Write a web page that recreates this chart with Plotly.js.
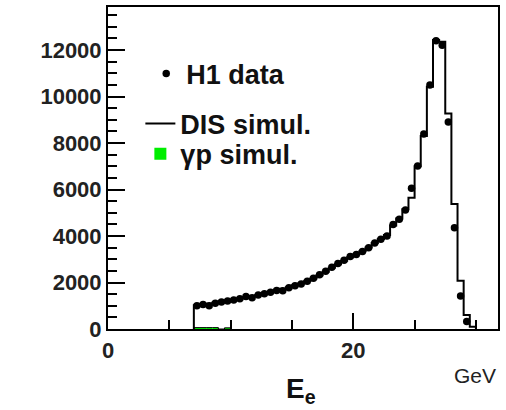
<!DOCTYPE html>
<html>
<head>
<meta charset="utf-8">
<script src="https://cdn.plot.ly/plotly-3.0.1.min.js"></script>
<style>
  html, body { margin: 0; padding: 0; background: #fff; }
  #chart { width: 506px; height: 410px; }
</style>
</head>
<body>
<div id="chart"></div>
<script>
// ---- data ----
const binWidth = 0.5;

const dataE = [7.25, 7.75, 8.25, 8.75, 9.25, 9.75, 10.25, 10.75, 11.25, 11.75,
  12.25, 12.75, 13.25, 13.75, 14.25, 14.75, 15.25, 15.75, 16.25, 16.75,
  17.25, 17.75, 18.25, 18.75, 19.25, 19.75, 20.25, 20.75, 21.25, 21.75,
  22.25, 22.75, 23.25, 23.75, 24.25, 24.75, 25.25, 25.75, 26.25, 26.75,
  27.25, 27.75, 28.25, 28.75, 29.25];
const dataCounts = [1000, 1050, 1000, 1110, 1160, 1200, 1250, 1300, 1400, 1340,
  1460, 1520, 1580, 1660, 1640, 1770, 1860, 1940, 2050, 2180,
  2330, 2480, 2660, 2820, 2960, 3120, 3200, 3330, 3500, 3700,
  3860, 4000, 4500, 4720, 5120, 6050, 7010, 8390, 10500, 12400,
  12200, 8900, 4360, 1420, 320];

const simE = [7.25, 7.75, 8.25, 8.75, 9.25, 9.75, 10.25, 10.75, 11.25, 11.75,
  12.25, 12.75, 13.25, 13.75, 14.25, 14.75, 15.25, 15.75, 16.25, 16.75,
  17.25, 17.75, 18.25, 18.75, 19.25, 19.75, 20.25, 20.75, 21.25, 21.75,
  22.25, 22.75, 23.25, 23.75, 24.25, 24.75, 25.25, 25.75, 26.25, 26.75,
  27.25, 27.75, 28.25, 28.75, 29.25, 29.75];
const simCounts = [1020, 1060, 1090, 1130, 1170, 1210, 1260, 1310, 1360, 1410,
  1460, 1520, 1590, 1660, 1730, 1800, 1880, 1960, 2060, 2170,
  2310, 2460, 2630, 2790, 2940, 3090, 3210, 3340, 3510, 3700,
  3870, 4040, 4450, 4750, 5150, 5650, 7000, 8300, 10420, 12430,
  12350, 9270, 5380, 2080, 600, 100];

const gpE = [7.25, 7.75, 8.25, 8.75, 9.25, 9.75];
const gpCounts = [60, 60, 60, 60, 0, 50];

const xTickVals = [0, 20];
const xTickText = ['0', '20'];
const yTickVals = [0, 2000, 4000, 6000, 8000, 10000, 12000];
const yTickText = ['0', '2000', '4000', '6000', '8000', '10000', '12000'];

// ---- helpers ----
function stepOutline(centers, counts) {
  const xs = [centers[0] - binWidth / 2];
  const ys = [0];
  for (let i = 0; i < centers.length; i++) {
    xs.push(centers[i] - binWidth / 2);
    ys.push(counts[i]);
  }
  xs.push(centers[centers.length - 1] + binWidth / 2);
  ys.push(0);
  return { xs, ys };
}

const FONT = 'Liberation Sans, Arial, Helvetica, sans-serif';
const sim = stepOutline(simE, simCounts);
const gp = stepOutline(gpE, gpCounts);

const traces = [
  {
    type: 'scatter', mode: 'markers', name: 'H1 data',
    x: dataE, y: dataCounts,
    marker: { color: '#000', size: 7.5 },
    legend: 'legend'
  },
  {
    type: 'scatter', mode: 'lines', name: 'DIS simul.',
    x: sim.xs, y: sim.ys,
    line: { color: '#000', width: 2, shape: 'hv' },
    legend: 'legend2'
  },
  {
    type: 'bar', name: '\u03b3p simul.',
    x: gpE, y: gpCounts, width: binWidth,
    marker: { color: '#00ee00', line: { width: 0 } },
    legend: 'legend3'
  },
  {
    type: 'scatter', mode: 'lines', name: 'gp outline',
    x: gp.xs, y: gp.ys, showlegend: false,
    line: { color: '#000', width: 1, shape: 'hv' },
    hoverinfo: 'skip'
  }
];

function legendAt(xPaper, yPaper) {
  return {
    x: xPaper, y: yPaper, xanchor: 'left', yanchor: 'middle',
    bgcolor: 'rgba(0,0,0,0)', borderwidth: 0,
    font: { family: FONT, size: 27, color: '#111', weight: 'bold' },
    itemwidth: 30
  };
}

const layout = {
  width: 506, height: 410,
  margin: { l: 108, r: 8, t: 7, b: 81 },
  paper_bgcolor: '#fff', plot_bgcolor: '#fff',
  showlegend: true,
  legend: legendAt(0.098, 0.792),
  legend2: legendAt(0.083, 0.637),
  legend3: legendAt(0.083, 0.543),
  xaxis: {
    range: [0, 31.8],
    showgrid: false, zeroline: false,
    showline: true, linecolor: '#000', linewidth: 2, mirror: true,
    ticks: 'inside', ticklen: 16, tickwidth: 2, tickcolor: '#000',
    tickmode: 'array', tickvals: xTickVals, ticktext: xTickText,
    ticklabelstandoff: 1,
    tickfont: { family: FONT, size: 22, color: '#222', weight: 'bold' },
    minor: { dtick: 5, tick0: 0, ticks: 'inside', ticklen: 9, tickwidth: 2, tickcolor: '#000', showgrid: false }
  },
  yaxis: {
    range: [0, 13850],
    showgrid: false, zeroline: false,
    showline: true, linecolor: '#000', linewidth: 2, mirror: true,
    ticks: 'inside', ticklen: 17, tickwidth: 2, tickcolor: '#000',
    tickmode: 'array', tickvals: yTickVals, ticktext: yTickText,
    ticksuffix: '\u2002',
    tickfont: { family: FONT, size: 22, color: '#222', weight: 'bold' },
    minor: { dtick: 500, tick0: 0, ticks: 'inside', ticklen: 9, tickwidth: 2, tickcolor: '#000', showgrid: false }
  },
  annotations: [
    {
      xref: 'paper', yref: 'paper', x: 0.495, y: -0.13,
      xanchor: 'center', yanchor: 'top', showarrow: false,
      text: '<b>E<sub>e</sub></b>',
      font: { family: FONT, size: 28, color: '#111' }
    },
    {
      xref: 'paper', yref: 'paper', x: 1.0, y: -0.143,
      xanchor: 'right', yanchor: 'middle', showarrow: false,
      text: 'GeV',
      font: { family: FONT, size: 21, color: '#222' }
    }
  ]
};

Plotly.newPlot('chart', traces, layout, { staticPlot: true, displayModeBar: false });
</script>
</body>
</html>
